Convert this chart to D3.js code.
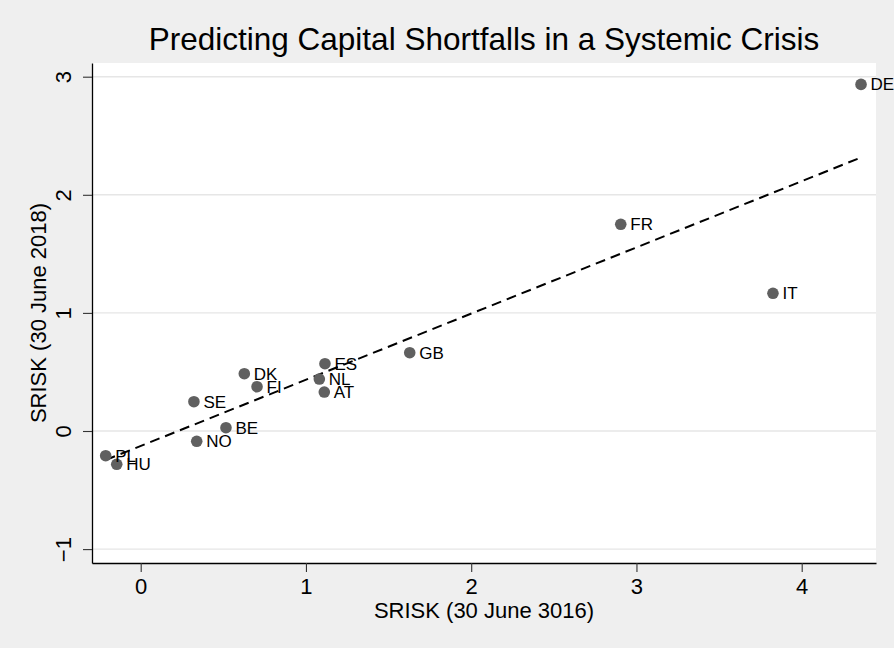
<!DOCTYPE html>
<html>
<head>
<meta charset="utf-8">
<script src="https://cdn.jsdelivr.net/npm/d3@7"></script>
<style>
  body { margin: 0; background: #efefef; }
  text { font-family: "Liberation Sans", Arial, Helvetica, sans-serif; fill: #000; }
</style>
</head>
<body>
<div id="scatter"></div>
<script>
// Country codes and SRISK values
var countries = ["DE", "FR", "IT", "GB", "ES", "NL", "AT", "DK", "FI", "SE", "BE", "NO", "PL", "HU"];
var srisk2016 = [4.359, 2.905, 3.826, 1.628, 1.115, 1.081, 1.111, 0.627, 0.704, 0.322, 0.516, 0.339, -0.212, -0.145];
var srisk2018 = [2.935, 1.750, 1.166, 0.663, 0.570, 0.440, 0.330, 0.485, 0.375, 0.248, 0.028, -0.087, -0.209, -0.282];

var xTicks = [0, 1, 2, 3, 4];
var yTicks = [-1, 0, 1, 2, 3];

var svgWidth = 894;
var svgHeight = 648;

var margin = {
  top: 63,
  right: 18,
  bottom: 85,
  left: 92
};

var width = svgWidth - margin.left - margin.right;
var height = svgHeight - margin.top - margin.bottom;

var data = countries.map(function(c, i) {
  return { abbr: c, x: srisk2016[i], y: srisk2018[i] };
});

var svg = d3.select("#scatter")
  .append("svg")
  .attr("width", svgWidth)
  .attr("height", svgHeight);

svg.append("rect")
  .attr("width", svgWidth)
  .attr("height", svgHeight)
  .attr("fill", "#efefef");

// Title
svg.append("text")
  .attr("x", margin.left + width / 2)
  .attr("y", 50)
  .attr("text-anchor", "middle")
  .attr("font-size", 31.5)
  .text("Predicting Capital Shortfalls in a Systemic Crisis");

var chartGroup = svg.append("g")
  .attr("transform", `translate(${margin.left}, ${margin.top})`);

// plot region
chartGroup.append("rect")
  .attr("width", width)
  .attr("height", height)
  .attr("fill", "#fff");

var xLinearScale = d3.scaleLinear()
  .domain([-0.2947, 4.4496])
  .range([0, width]);

var yLinearScale = d3.scaleLinear()
  .domain([-1.1177, 3.116])
  .range([height, 0]);

// gridlines
chartGroup.selectAll(".grid")
  .data(yTicks)
  .enter()
  .append("line")
  .attr("class", "grid")
  .attr("x1", 0)
  .attr("x2", width)
  .attr("y1", d => yLinearScale(d))
  .attr("y2", d => yLinearScale(d))
  .attr("stroke", "#e6e6e6")
  .attr("stroke-width", 1.4);

// Axes
var bottomAxis = d3.axisBottom(xLinearScale)
  .tickValues(xTicks)
  .tickSize(9)
  .tickSizeOuter(0)
  .tickFormat(d3.format("d"));

var leftAxis = d3.axisLeft(yLinearScale)
  .tickValues(yTicks)
  .tickSize(9)
  .tickSizeOuter(0)
  .tickFormat(d => d < 0 ? "\u2212" + Math.abs(d) : d);

var xAxisG = chartGroup.append("g")
  .attr("transform", `translate(0, ${height})`)
  .call(bottomAxis);

xAxisG.select(".domain").attr("stroke", "#000").attr("stroke-width", 1.3);
xAxisG.selectAll(".tick line").attr("stroke", "#333").attr("stroke-width", 1.1);
xAxisG.selectAll(".tick text")
  .attr("font-size", 22)
  .attr("font-family", "Liberation Sans, Arial, sans-serif")
  .attr("fill", "#000")
  .attr("dy", null)
  .attr("y", 30.5);

var yAxisG = chartGroup.append("g")
  .call(leftAxis);

yAxisG.select(".domain").attr("stroke", "#000").attr("stroke-width", 1.3);
yAxisG.selectAll(".tick line").attr("stroke", "#333").attr("stroke-width", 1.1);
yAxisG.selectAll(".tick text")
  .attr("font-size", 22)
  .attr("font-family", "Liberation Sans, Arial, sans-serif")
  .attr("fill", "#000")
  .attr("x", null)
  .attr("dy", null)
  .attr("text-anchor", "middle")
  .attr("transform", "translate(-21.5, 0) rotate(-90)");

// Linear fit (OLS) of 2018 on 2016
var mx = d3.mean(data, d => d.x);
var my = d3.mean(data, d => d.y);
var slope = d3.sum(data, d => (d.x - mx) * (d.y - my)) / d3.sum(data, d => (d.x - mx) * (d.x - mx));
var intercept = my - slope * mx;
var xExt = d3.extent(data, d => d.x);

chartGroup.append("line")
  .attr("x1", xLinearScale(xExt[0]))
  .attr("y1", yLinearScale(intercept + slope * xExt[0]))
  .attr("x2", xLinearScale(xExt[1]))
  .attr("y2", yLinearScale(intercept + slope * xExt[1]))
  .attr("stroke", "#000")
  .attr("stroke-width", 2)
  .attr("stroke-dasharray", "10,6");

// Create circles
chartGroup.selectAll("circle")
  .data(data)
  .enter()
  .append("circle")
  .attr("r", 5.8)
  .attr("cx", d => xLinearScale(d.x))
  .attr("cy", d => yLinearScale(d.y))
  .attr("fill", "#606060");

// country labels
chartGroup.selectAll(".lbl")
  .data(data)
  .enter()
  .append("text")
  .attr("class", "lbl")
  .attr("x", d => xLinearScale(d.x) + 9.5)
  .attr("y", d => yLinearScale(d.y))
  .attr("dy", "0.35em")
  .attr("font-size", 17)
  .text(d => d.abbr);

// axis titles
svg.append("text")
  .attr("x", margin.left + width / 2)
  .attr("y", 618)
  .attr("text-anchor", "middle")
  .attr("font-size", 22)
  .text("SRISK (30 June 3016)");

svg.append("text")
  .attr("transform", `translate(46, ${margin.top + height / 2}) rotate(-90)`)
  .attr("text-anchor", "middle")
  .attr("font-size", 22)
  .text("SRISK (30 June 2018)");
</script>
</body>
</html>
